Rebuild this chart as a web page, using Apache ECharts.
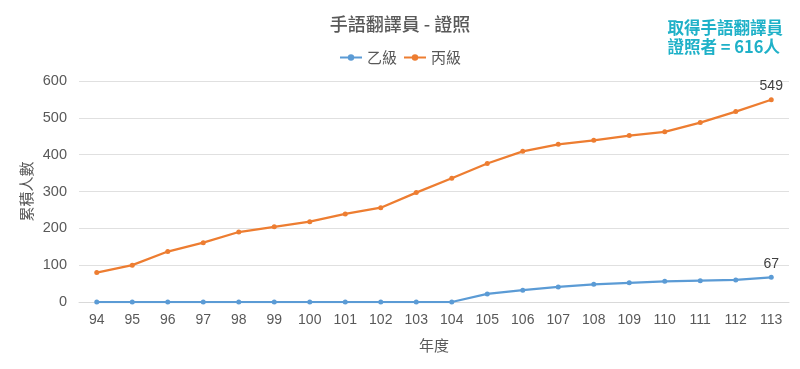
<!DOCTYPE html>
<html><head><meta charset="utf-8">
<script src="https://cdn.jsdelivr.net/npm/echarts@6/dist/echarts.min.js"></script>
<style>html,body{margin:0;padding:0;background:#fff}#c{width:800px;height:369px}</style>
</head><body><div id="c"></div>
<script>
const years = ['94','95','96','97','98','99','100','101','102','103','104','105','106','107','108','109','110','111','112','113'];
const gradeB = [0,0,0,0,0,0,0,0,0,0,0,22,32,41,48,52,56,58,60,67];
const gradeC = [80,100,137,161,190,204,218,239,256,297,336,376,409,428,439,452,462,487,517,549];
const yTicks = [0,100,200,300,400,500,600];
const ff = '"Liberation Sans","Noto Sans CJK TC",Arial,sans-serif';
const cjk = '"Noto Sans CJK TC","Liberation Sans",sans-serif';
const chart = echarts.init(document.getElementById('c'));
function lastLabel(arr){
  return arr.map((v,i)=> i===arr.length-1 ? {value:v,label:{show:true,position:'top',color:'#404040',fontSize:14,fontFamily:ff,distance:4}} : v);
}
chart.setOption({
  animation:false,
  textStyle:{fontFamily:ff},
  title:[{text:'手語翻譯員 - 證照',left:'center',top:10,textStyle:{fontSize:18,fontWeight:500,color:'#595959',fontFamily:cjk}},
         {text:'取得手語翻譯員\n證照者 = 616人',right:17,top:18,padding:0,textStyle:{fontSize:16.5,fontWeight:'bold',color:'#1fb1c8',lineHeight:19,fontFamily:cjk}}],
  legend:{top:45,left:'center',itemWidth:22,itemHeight:8,itemGap:6,textStyle:{fontSize:15,color:'#595959',fontFamily:cjk},data:['乙級','丙級']},
  grid:{left:79,right:11,top:81,bottom:67},
  xAxis:{type:'category',data:years,boundaryGap:true,name:'年度',nameLocation:'middle',nameGap:36,
    nameTextStyle:{fontSize:15,color:'#595959',fontFamily:cjk},
    axisLine:{show:true,lineStyle:{color:'#d9d9d9'}},axisTick:{show:false},
    axisLabel:{fontSize:14,color:'#595959',margin:11,interval:0,fontFamily:ff}},
  yAxis:{type:'value',min:yTicks[0],max:yTicks[yTicks.length-1],interval:100,name:'累積人數',nameLocation:'middle',nameGap:45,nameMoveOverlap:false,
    nameTextStyle:{fontSize:15,color:'#595959',fontFamily:cjk},
    axisLine:{show:false},axisTick:{show:false},
    splitLine:{lineStyle:{color:'#e0e0e0',width:1}},
    axisLabel:{fontSize:14.5,color:'#595959',margin:12,fontFamily:ff}},
  series:[
    {name:'乙級',type:'line',data:lastLabel(gradeB),symbol:'circle',symbolSize:5,itemStyle:{color:'#5b9bd5'},lineStyle:{width:2.25,color:'#5b9bd5'}},
    {name:'丙級',type:'line',data:lastLabel(gradeC),symbol:'circle',symbolSize:5,itemStyle:{color:'#ed7d31'},lineStyle:{width:2.25,color:'#ed7d31'}}
  ]
});
</script></body></html>
